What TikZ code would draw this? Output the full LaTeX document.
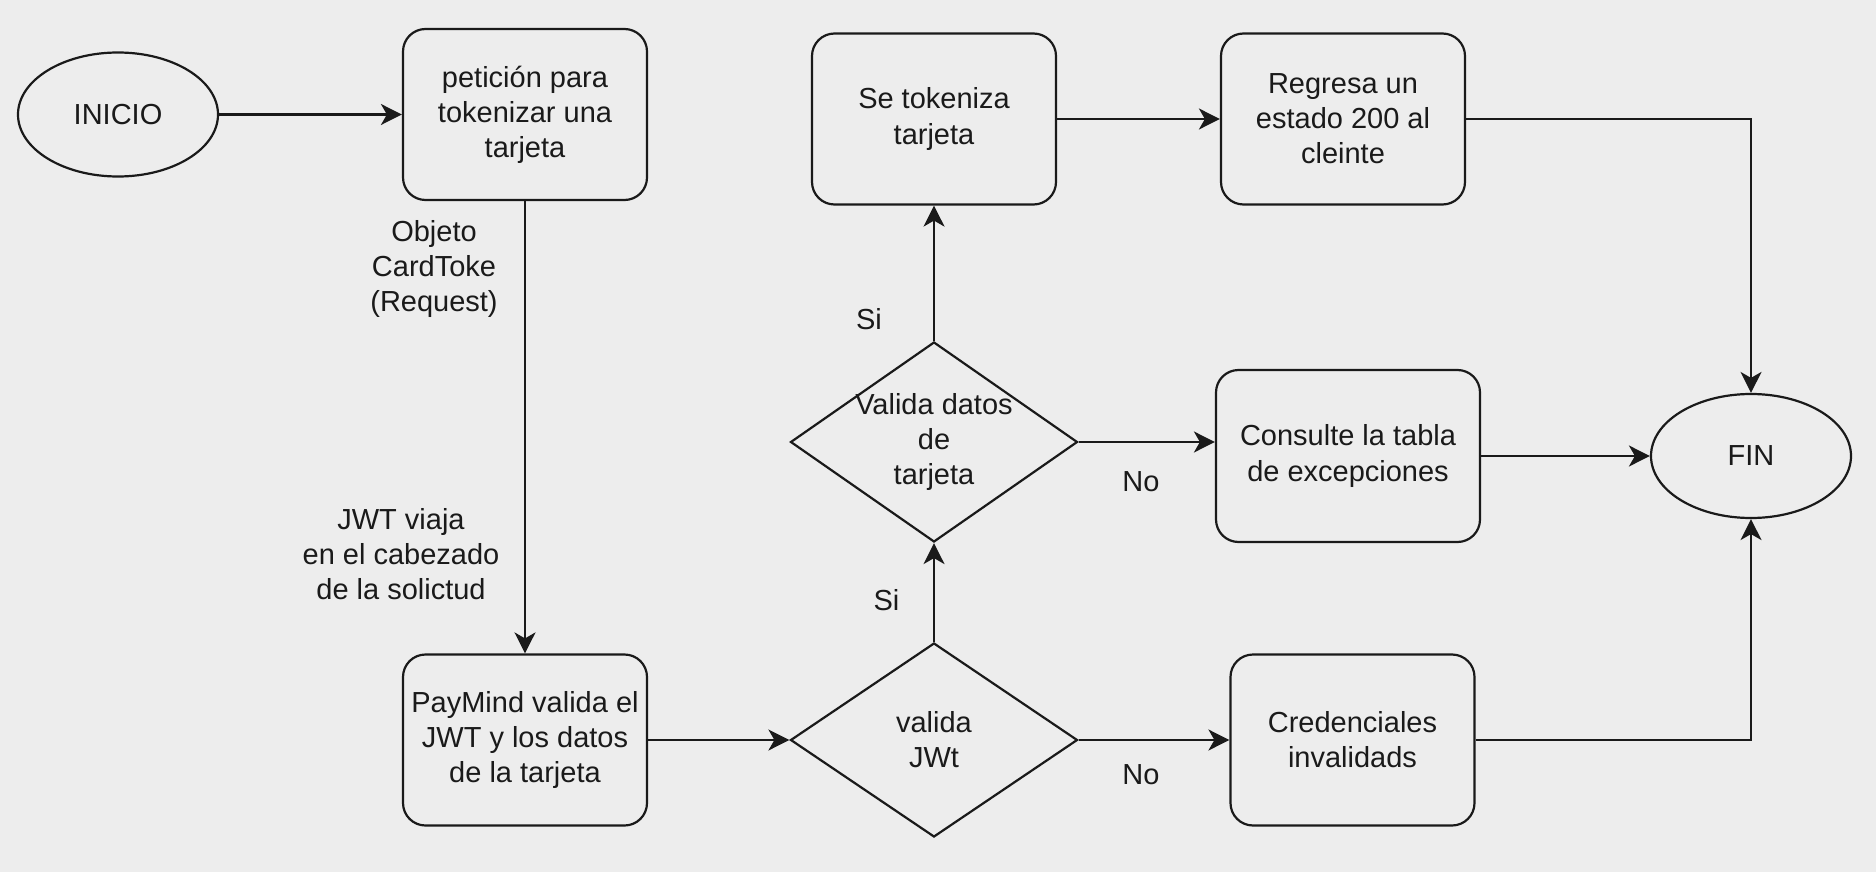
\documentclass[tikz,border=0pt]{standalone}
\usepackage{fontspec}
\setmainfont{Liberation Sans}
\usetikzlibrary{shapes.geometric,arrows.meta}
\definecolor{fondo}{RGB}{237,237,237}
\definecolor{tinta}{RGB}{26,26,26}
\begin{document}
\begin{tikzpicture}[font=\fontsize{16.5}{20}\selectfont,color=tinta,
  caja/.style={draw,rounded corners=0.45cm,line width=1.25pt,minimum width=4.88cm,minimum height=3.42cm,align=center,inner sep=2pt},
  elipse/.style={draw,ellipse,line width=1.25pt,minimum width=4cm,minimum height=2.48cm,inner sep=0pt},
  rombo/.style={draw,diamond,line width=1.25pt,minimum width=5.74cm,minimum height=4cm,inner sep=0pt},
  flecha/.style={line width=1.15pt,-{Stealth[length=0.42cm,width=0.42cm,inset=0.12cm]}},
  etiqueta/.style={align=center}]
\fill[fondo](0,0)rectangle(37.52,-17.44);
\useasboundingbox(0,0)rectangle(37.52,-17.44);
\node[elipse](ini) at (2.36,-2.29){INICIO};
\node[caja](pet) at (10.50,-2.29){petición para\\tokenizar una\\tarjeta};
\node[caja](tok) at (18.68,-2.38){Se tokeniza\\tarjeta};
\node[caja](reg) at (26.86,-2.38){Regresa un\\estado 200 al\\cleinte};
\node[rombo,label={[etiqueta]center:Valida datos\\de\\tarjeta}](dat) at (18.68,-8.84){};
\node[caja,minimum width=5.28cm,minimum height=3.44cm](cons) at (26.96,-9.12){Consulte la tabla\\de excepciones};
\node[elipse](fin) at (35.02,-9.12){FIN};
\node[caja](pay) at (10.50,-14.80){PayMind valida el\\JWT y los datos\\de la tarjeta};
\node[rombo,minimum height=3.88cm,label={[etiqueta]center:valida\\JWt}](jwt) at (18.68,-14.80){};
\node[caja](cred) at (27.05,-14.80){Credenciales\\invalidads};
\node[etiqueta](objeto) at (8.68,-5.38){Objeto\\CardToke\\(Request)};
\node[etiqueta](cabecera) at (8.02,-11.08){JWT viaja\\en el cabezado\\de la solictud};
\node(si1) at (17.38,-6.38){Si};
\node(si2) at (17.73,-12.01){Si};
\node(no1) at (22.82,-9.64){No};
\node(no2) at (22.82,-15.50){No};
\draw[flecha](ini)--(pet);
\draw[flecha](pet)--(pay);
\draw[flecha](pay)--(jwt);
\draw[flecha](jwt)--(dat);
\draw[flecha](dat)--(tok);
\draw[flecha](tok)--(reg);
\draw[flecha](reg.east)-|(fin.north);
\draw[flecha](dat.east)--(dat.east-|cons.west);
\draw[flecha](cons)--(fin);
\draw[flecha](jwt)--(cred);
\draw[flecha](cred.east)-|(fin.south);
\end{tikzpicture}
\end{document}
